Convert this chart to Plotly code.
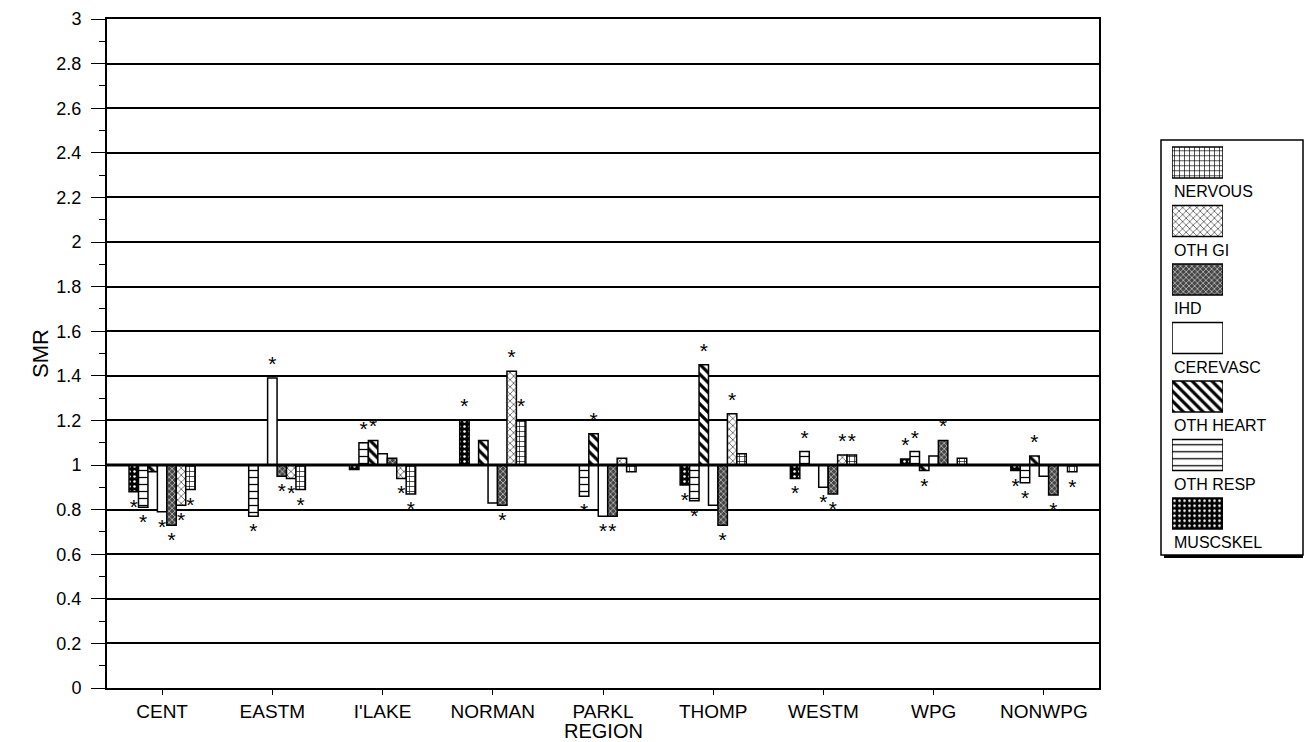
import plotly.graph_objects as go

regions = ["CENT", "EASTM", "I'LAKE", "NORMAN", "PARKL", "THOMP", "WESTM", "WPG", "NONWPG"]

# SMR values per cause (legend order)
nervous   = [0.89, 0.89, 0.87, 1.20, 0.97, 1.05, 1.045, 1.03, 0.97]
oth_gi    = [0.82, 0.94, 0.94, 1.42, 1.03, 1.23, 1.045, 1.00, 1.00]
ihd       = [0.73, 0.95, 1.03, 0.82, 0.77, 0.73, 0.87, 1.11, 0.865]
cerevasc  = [0.79, 1.39, 1.05, 0.83, 0.77, 0.82, 0.90, 1.04, 0.95]
oth_heart = [0.97, 1.00, 1.11, 1.11, 1.14, 1.45, 1.00, 0.975, 1.04]
oth_resp  = [0.81, 0.77, 1.10, 1.00, 0.86, 0.84, 1.06, 1.06, 0.92]
muscskel  = [0.88, 1.00, 0.98, 1.20, 1.00, 0.91, 0.94, 1.027, 0.975]

# significance flags (asterisks)
sig_nervous   = [1, 1, 1, 1, 0, 0, 1, 0, 1]
sig_oth_gi    = [1, 1, 1, 1, 0, 1, 1, 0, 0]
sig_ihd       = [1, 1, 0, 1, 1, 1, 1, 1, 1]
sig_cerevasc  = [1, 1, 0, 0, 1, 0, 1, 0, 0]
sig_oth_heart = [0, 0, 1, 0, 1, 1, 0, 1, 1]
sig_oth_resp  = [1, 1, 1, 0, 1, 1, 1, 1, 1]
sig_muscskel  = [1, 0, 0, 1, 0, 1, 1, 1, 1]

legend_names = ["NERVOUS", "OTH GI", "IHD", "CEREVASC", "OTH HEART", "OTH RESP", "MUSCSKEL"]
values = [nervous, oth_gi, ihd, cerevasc, oth_heart, oth_resp, muscskel]
sigs = [sig_nervous, sig_oth_gi, sig_ihd, sig_cerevasc, sig_oth_heart, sig_oth_resp, sig_muscskel]

styles = {
    "NERVOUS":   dict(bg="white", fg="black", shape="+", size=5, sol=0.25),
    "OTH GI":    dict(bg="white", fg="black", shape="x", size=5, sol=0.2),
    "IHD":       dict(bg="#444444", fg="white", shape="x", size=4, sol=0.25),
    "CEREVASC":  dict(bg="white", fg="black", shape="", size=5, sol=0.2),
    "OTH HEART": dict(bg="white", fg="black", shape="\\", size=7, sol=0.45),
    "OTH RESP":  dict(bg="white", fg="black", shape="-", size=7, sol=0.18),
    "MUSCSKEL":  dict(bg="black", fg="white", shape=".", size=5, sol=0.2),
}

def marker_for(name):
    st = styles[name]
    return dict(color=st["bg"], line=dict(color="black", width=1.5),
                pattern=dict(shape=st["shape"], fgcolor=st["fg"], bgcolor=st["bg"],
                             size=st["size"], solidity=st["sol"], fillmode="replace"))

BASE = 1.0
fig = go.Figure()

# bars drawn left-to-right in reverse legend order
for idx in reversed(range(len(legend_names))):
    name = legend_names[idx]
    vals = values[idx]
    fig.add_trace(go.Bar(
        x=regions,
        y=[v - BASE for v in vals],
        base=BASE,
        name=name,
        showlegend=False,
        marker=marker_for(name),
        text=["*" if s else "" for s in sigs[idx]],
        textposition="outside",
        textfont=dict(size=21, color="black", family="Liberation Sans, Arial"),
        cliponaxis=False,
        constraintext="none",
        xaxis="x", yaxis="y",
    ))

# custom legend: swatches as bars on their own axes, one trace per cause
for k, name in enumerate(legend_names):
    fig.add_trace(go.Bar(
        y=[-k], x=[1], orientation="h", width=0.53,
        showlegend=False, hoverinfo="skip",
        marker=marker_for(name),
        xaxis="x2", yaxis="y2",
    ))

W, H = 1305, 742
ml, mr, mt, mb = 107, 2, 19, 54
pw, ph = W - ml - mr, H - mt - mb
def px(x): return (x - ml) / pw
def py(y): return (H - mb - y) / ph

for k, n in enumerate(legend_names):
    fig.add_annotation(text=n, xref="x2 domain", x=0, xanchor="left",
                       yref="y2", y=-k - 0.5, yanchor="middle", showarrow=False,
                       font=dict(size=16, color="black", family="Liberation Sans, Arial"))

# x-axis title
fig.add_annotation(text="REGION", xref="x domain", x=0.5, xanchor="center",
                   yref="paper", y=py(731), yanchor="middle", showarrow=False,
                   font=dict(size=20, color="black", family="Liberation Sans, Arial"))

# legend box with shadow
fig.add_shape(type="rect", xref="paper", yref="paper",
              x0=px(1164), x1=1.0, y0=py(558), y1=py(143),
              fillcolor="black", line=dict(width=0), layer="below")
fig.add_shape(type="rect", xref="paper", yref="paper",
              x0=px(1161), x1=1.0, y0=py(555), y1=py(140),
              fillcolor="white", line=dict(color="black", width=1.5), layer="below")

# thick reference line at SMR = 1
fig.add_shape(type="line", xref="x domain", x0=0, x1=1, yref="y", y0=1, y1=1,
              line=dict(color="black", width=3), layer="above")

fig.update_layout(
    width=W, height=H,
    margin=dict(l=ml, r=mr, t=mt, b=mb),
    paper_bgcolor="white", plot_bgcolor="white",
    barmode="group", bargap=0.4, bargroupgap=0,
    font=dict(family="Liberation Sans, Arial", color="black"),
    xaxis=dict(domain=[0, px(1099)], range=[-0.5, 8.5], type="category",
               showline=True, linecolor="black", linewidth=2, mirror=True,
               ticks="outside", ticklen=5, tickcolor="black", tickwidth=1,
               tickfont=dict(size=19), showgrid=False),
    yaxis=dict(range=[0, 3], dtick=0.2, tick0=0, tickformat="~g",
               showline=True, linecolor="black", linewidth=2, mirror=True,
               ticks="outside", ticklen=14, tickcolor="black", tickwidth=1,
               tickfont=dict(size=18), ticklabelstandoff=6,
               showgrid=True, gridcolor="black", gridwidth=1.5, zeroline=False,
               minor=dict(dtick=0.1, ticks="outside", ticklen=6, tickcolor="black", showgrid=False),
               title=dict(text="SMR", font=dict(size=22), standoff=2)),
    xaxis2=dict(domain=[px(1172), px(1223)], range=[0, 1], anchor="y2",
                showline=False, showgrid=False, zeroline=False, showticklabels=False, fixedrange=True),
    yaxis2=dict(domain=[py(542.75), py(133.25)], range=[-6.5, 0.5], anchor="x2",
                showline=False, showgrid=False, zeroline=False, showticklabels=False, fixedrange=True),
)

fig.write_html("out.html")
